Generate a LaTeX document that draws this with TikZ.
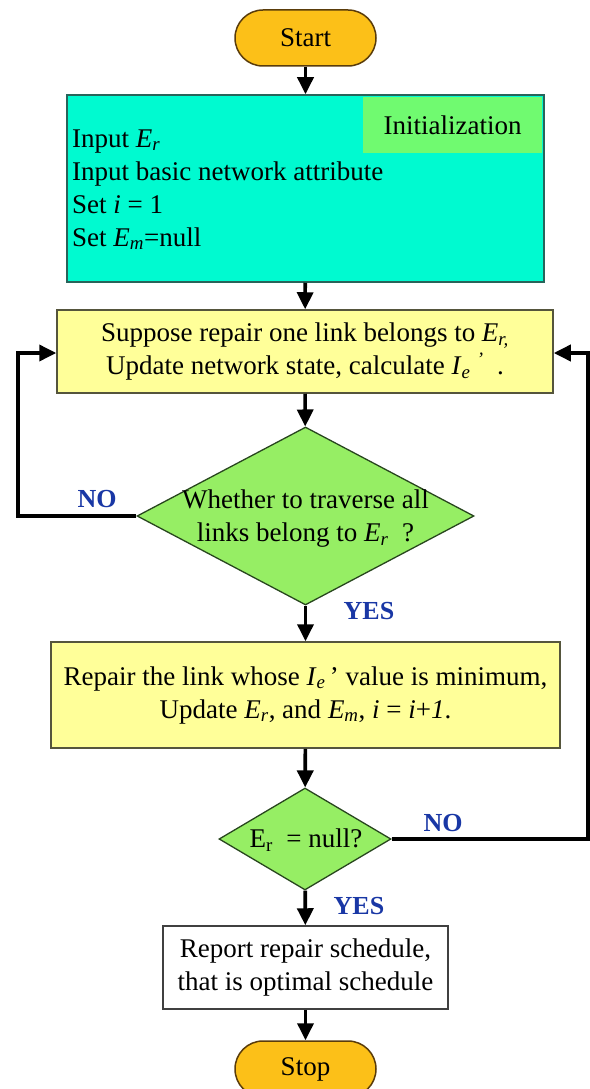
\documentclass[tikz,border=0pt]{standalone}
\usepackage{fontspec}
\setmainfont{Liberation Serif}
\usetikzlibrary{arrows.meta,shapes.geometric}
\definecolor{termfill}{RGB}{252,192,24}
\definecolor{termdraw}{RGB}{90,60,10}
\definecolor{initfill}{RGB}{0,250,208}
\definecolor{initdraw}{RGB}{40,100,90}
\definecolor{labfill}{RGB}{112,250,112}
\definecolor{procfill}{RGB}{255,255,153}
\definecolor{procdraw}{RGB}{85,85,60}
\definecolor{decfill}{RGB}{150,238,100}
\definecolor{decdraw}{RGB}{40,70,30}
\definecolor{lblblue}{RGB}{25,55,165}
\newcommand{\Er}{\textit{E}\textsubscript{\textit{r}}}
\newcommand{\Em}{\textit{E}\textsubscript{\textit{m}}}
\begin{document}
\begin{tikzpicture}[x=1pt,y=-1pt,
  txt/.style={font=\fontsize{27}{33}\selectfont, inner sep=0pt},
  term/.style={txt, draw=termdraw, fill=termfill, line width=1.5pt, rounded corners=28pt, minimum width=141pt, minimum height=56pt},
  initbox/.style={draw=initdraw, fill=initfill, line width=1.5pt, minimum width=477pt, minimum height=187pt, inner sep=0pt},
  initlab/.style={txt, fill=labfill, minimum width=179pt, minimum height=56pt},
  proc/.style={txt, align=center, draw=procdraw, fill=procfill, line width=1.5pt},
  dec/.style={shape=diamond, draw=decdraw, fill=decfill, line width=1.3pt, inner sep=0pt},
  repbox/.style={txt, align=center, draw=black!75, fill=white, line width=1.5pt, minimum width=285pt, minimum height=83pt},
  yn/.style={font=\fontsize{26}{30}\selectfont\bfseries, text=lblblue, inner sep=0pt},
  conn/.style={line width=3.6pt, -{Triangle[length=17pt,width=16pt]}}
]
\useasboundingbox (0,0) rectangle (589,1089);

\node[term] (start) at (305.5,38) {Start};

\node[initbox] (init) at (305.5,188.5) {};
\node[initlab] (initlab) at (452.5,125) {Initialization};
\node[txt, anchor=base west] (in1) at (72,147) {Input \Er};
\node[txt, anchor=base west] (in2) at (72,180) {Input basic network attribute};
\node[txt, anchor=base west] (in3) at (72,213) {Set \textit{i} = 1};
\node[txt, anchor=base west] (in4) at (72,246) {Set \Em=null};

\node[proc, minimum width=496pt, minimum height=83pt] (p1) at (305,351.5)
  {Suppose repair one link belongs to \textit{E}\textsubscript{\textit{r,}}\\
   Update network state, calculate \textit{I}\textsubscript{\textit{e}}\textsuperscript{\,\,\textit{'}}\ \ .};

\node[dec, minimum width=337pt, minimum height=178pt] (d1) at (305.5,516) {};
\node[txt, align=center] (d1t) at (305.5,519) {Whether to traverse all\\links belong to \Er\ \ ?};

\node[proc, minimum width=509pt, minimum height=106pt] (p2) at (305.5,695)
  {Repair the link whose \textit{I}\textsubscript{\textit{e}}\,’ value is minimum,\\
   Update \Er, and \Em, \textit{i} = \textit{i}+\textit{1}.};

\node[dec, minimum width=172pt, minimum height=102pt] (d2) at (305,839) {};
\node[txt] (d2t) at (306,840) {E\textsubscript{r}\ \ = null?};

\node[repbox] (rep) at (305.5,967.5) {Report repair schedule,\\that is optimal schedule};

\node[term] (stop) at (305.5,1069) {Stop};

\node[yn] (no1) at (97,499) {NO};
\node[yn] (yes1) at (369,611) {YES};
\node[yn] (no2) at (443,823) {NO};
\node[yn] (yes2) at (359,906) {YES};

\draw[conn] (start) -- (init);
\draw[conn] (init) -- (p1);
\draw[conn] (p1) -- (d1);
\draw[conn] (d1) -- (p2);
\draw[conn] (p2) -- (d2);
\draw[conn] (d2) -- (rep);
\draw[conn] (rep) -- (stop);

\coordinate (lc1) at (18,516);
\coordinate (lc2) at (18,353);
\draw[conn] (d1.west) -- (lc1) -- (lc2) -- (lc2 -| p1.west);

\coordinate (rc1) at (588,839);
\coordinate (rc2) at (588,353);
\draw[conn] (d2.east) -- (rc1) -- (rc2) -- (rc2 -| p1.east);
\end{tikzpicture}
\end{document}
